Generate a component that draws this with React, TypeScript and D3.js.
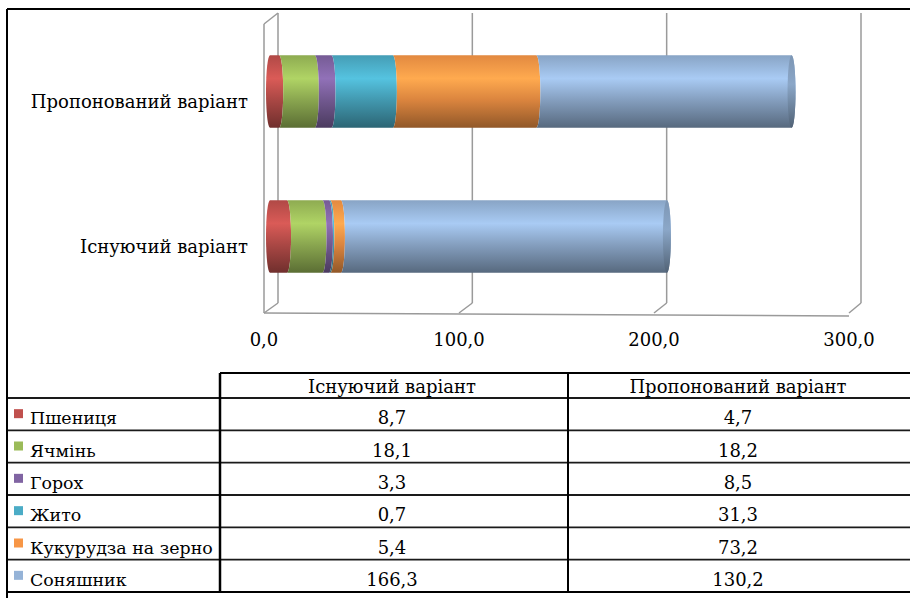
import * as d3 from 'd3';

// chart rows, top to bottom
const categories = ['Пропонований варіант', 'Існуючий варіант'];
// table columns, left to right
const tableColumns = ['Існуючий варіант', 'Пропонований варіант'];
const crops = ['Пшениця', 'Ячмінь', 'Горох', 'Жито', 'Кукурудза на зерно', 'Соняшник'];
const existing = [8.7, 18.1, 3.3, 0.7, 5.4, 166.3];
const proposed = [4.7, 18.2, 8.5, 31.3, 73.2, 130.2];
const colors = ['#c0504d', '#9bbb59', '#8064a2', '#4bacc6', '#f79646', '#95b3d7'];
const ticks = [0, 100, 200, 300];

const seriesByCategory: Record<string, number[]> = {
  'Пропонований варіант': proposed,
  'Існуючий варіант': existing,
};
const seriesByColumn = [existing, proposed];

// DejaVu Serif is the serif face here that carries Cyrillic glyphs
const FONT = 'DejaVu Serif';
const FS = 18;
const fmt = (v: number) => d3.format('.1f')(v).replace('.', ',');

export default function App() {
  const W = 910;
  const H = 598;

  // bar plane, back wall and front edge of the 3D plot
  const x = d3.scaleLinear().domain([0, 300]).range([270, 858]);
  const xBack = d3.scaleLinear().domain([0, 300]).range([278, 861]);
  const xFront = d3.scaleLinear().domain([0, 300]).range([264, 849]);
  const wallTop = 13;
  const backFloor = 303;
  const frontFloor = 313;
  const depthDy = 11;

  const y = d3.scaleBand<string>().domain(categories).range([19, 309]).paddingInner(0.5).paddingOuter(0.25);
  const bh = y.bandwidth();
  const rx = 4;

  // table layout
  const colX = [7, 220, 568, 912];
  const headerTop = 373;
  const rowY = d3.scaleBand<string>().domain(crops).range([398, 592]);
  const rowH = rowY.bandwidth();

  const segPath = (x0: number, x1: number, top: number, h: number, first: boolean) => {
    const bottom = top + h;
    const ry = h / 2;
    return `M${x0},${top} L${x1},${top} A${rx},${ry} 0 0 1 ${x1},${bottom} L${x0},${bottom} A${rx},${ry} 0 0 ${first ? 1 : 0} ${x0},${top} Z`;
  };

  return (
    <svg width={W} height={H} style={{ display: 'block', position: 'absolute', left: 0, top: 0 }}>
      <style>{`text { font-family: 'DejaVu Serif', serif; }`}</style>
      <defs>
        {colors.map((c, i) => {
          const col = d3.color(c)!;
          return (
            <linearGradient key={i} id={`g${i}`} x1="0" y1="0" x2="0" y2="1">
              <stop offset="0" stopColor={col.darker(0.25).formatHex()} />
              <stop offset="0.32" stopColor={col.brighter(0.35).formatHex()} />
              <stop offset="0.62" stopColor={col.darker(0.35).formatHex()} />
              <stop offset="1" stopColor={col.darker(1.5).formatHex()} />
            </linearGradient>
          );
        })}
        {colors.map((c, i) => {
          const col = d3.color(c)!;
          return (
            <linearGradient key={'e' + i} id={`ge${i}`} x1="0" y1="0" x2="0" y2="1">
              <stop offset="0" stopColor={col.darker(0.5).formatHex()} />
              <stop offset="0.4" stopColor={col.darker(0.2).formatHex()} />
              <stop offset="1" stopColor={col.darker(1.7).formatHex()} />
            </linearGradient>
          );
        })}
      </defs>

      <rect x={0} y={0} width={W} height={H} fill="#fff" />

      {/* walls and gridlines */}
      <g stroke="#9a9a9a" strokeWidth={1.5} fill="none">
        <line x1={xFront(0)} y1={wallTop + depthDy} x2={xFront(0)} y2={frontFloor} />
        <line x1={xBack(0)} y1={wallTop} x2={xFront(0)} y2={wallTop + depthDy} />
        {ticks.map((t) => (
          <g key={t}>
            <line x1={xBack(t)} y1={wallTop} x2={xBack(t)} y2={backFloor} />
            <line x1={xBack(t)} y1={backFloor} x2={xFront(t)} y2={frontFloor} />
          </g>
        ))}
        <line x1={xFront(0)} y1={frontFloor} x2={xFront(300)} y2={frontFloor + 3} />
      </g>

      {/* cylinders */}
      {categories.map((cat) => {
        const vals = seriesByCategory[cat];
        const cum = d3.cumsum(vals);
        const top = y(cat)!;
        const total = cum[cum.length - 1];
        return (
          <g key={cat}>
            {vals.map((v, i) => {
              const a = i === 0 ? 0 : cum[i - 1];
              const b = cum[i];
              return <path key={i} d={segPath(x(a), x(b), top, bh, i === 0)} fill={`url(#g${i})`} />;
            })}
            <ellipse cx={x(total)} cy={top + bh / 2} rx={rx} ry={bh / 2} fill={`url(#ge${vals.length - 1})`} />
          </g>
        );
      })}

      <g fontSize={FS} fill="#000" fontFamily={FONT}>
        {/* category labels */}
        {categories.map((cat) => (
          <text key={cat} x={248} y={y(cat)! + bh / 2 + 16} textAnchor="end">
            {cat}
          </text>
        ))}

        {/* axis tick labels */}
        {ticks.map((t) => (
          <text key={t} x={xFront(t)} y={346} textAnchor="middle">
            {fmt(t)}
          </text>
        ))}

        {/* table */}
        {tableColumns.map((c, j) => (
          <text key={c} x={(colX[j + 1] + colX[j + 2]) / 2 - 2} y={headerTop + 20} textAnchor="middle">
            {c}
          </text>
        ))}
        {crops.map((crop, i) => {
          const ry0 = rowY(crop)!;
          return (
            <g key={crop}>
              <rect x={14} y={ry0 + rowH / 2 - 5} width={9} height={9} fill={colors[i]} />
              <text x={30} y={ry0 + rowH - 6} fontSize={17.4}>{crop}</text>
              {seriesByColumn.map((s, j) => (
                <text key={j} x={(colX[j + 1] + colX[j + 2]) / 2 - 2} y={ry0 + rowH - 6} textAnchor="middle">
                  {fmt(s[i])}
                </text>
              ))}
            </g>
          );
        })}
      </g>

      <g stroke="#000" fill="none">
        <line x1={colX[1]} y1={headerTop} x2={W} y2={headerTop} strokeWidth={2} />
        {crops.map((crop) => (
          <line key={crop} x1={colX[0]} y1={rowY(crop)!} x2={W} y2={rowY(crop)!} strokeWidth={1.8} stroke="#1a1a1a" />
        ))}
        <line x1={colX[0]} y1={592} x2={W} y2={592} strokeWidth={2} />
        <line x1={colX[1]} y1={headerTop} x2={colX[1]} y2={592} strokeWidth={2.5} />
        <line x1={colX[2]} y1={headerTop} x2={colX[2]} y2={592} strokeWidth={2} />
        {/* outer frame */}
        <line x1={7} y1={9} x2={W} y2={9} strokeWidth={2} />
        <line x1={7} y1={9} x2={7} y2={H} strokeWidth={2} />
      </g>
    </svg>
  );
}
